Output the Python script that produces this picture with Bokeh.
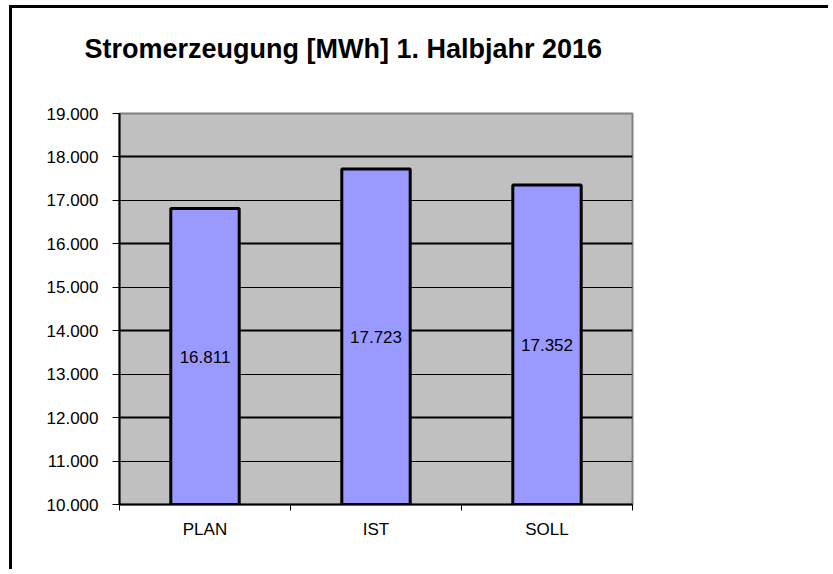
from bokeh.plotting import figure
from bokeh.models import ColumnDataSource, FixedTicker, Range1d, Grid, Title
from bokeh.core.properties import value
from bokeh.embed import file_html
from bokeh.resources import INLINE

categories = ["PLAN", "IST", "SOLL"]
values = [16811, 17723, 17352]
y_ticks = [10000, 11000, 12000, 13000, 14000, 15000, 16000, 17000, 18000, 19000]
title_text = "Stromerzeugung [MWh] 1. Halbjahr 2016"

def de(v):
    return f"{v:,}".replace(",", ".")

ymin, ymax = y_ticks[0], y_ticks[-1]
xs = [i + 0.5 for i in range(len(categories))]
src = ColumnDataSource(dict(
    x=xs, top=values, cat=categories,
    mid=[(ymin + v) / 2 for v in values],
    lab=[de(v) for v in values],
))

FONT = "Liberation Sans"
W, H = 819, 564

p = figure(width=W, height=H, output_backend="svg", toolbar_location=None,
           x_range=Range1d(0, len(categories)), y_range=Range1d(ymin, ymax),
           min_border_left=107, min_border_right=199, min_border_top=105, min_border_bottom=68)
p.title_location = None
p.styles = {"border-left": "3px solid black", "border-top": "3px solid black",
            "margin-left": "9px", "margin-top": "5px"}
p.background_fill_color = "#C0C0C0"
p.border_fill_color = "white"
p.outline_line_color = "#808080"
p.outline_line_width = 2

# spacer between frame and title, then the title itself
p.add_layout(Title(text=" ", text_font_size="10px", standoff=37), "above")
p.add_layout(Title(text=title_text, text_font=FONT, text_font_size="27px",
                   text_font_style="bold", text_color="black", align="left",
                   offset=-35, standoff=0), "above")

# grids: alternate thick/thin
p.xgrid.visible = False
p.ygrid.visible = False
thick = [t for t in y_ticks[1:-1] if (t // 1000) % 2 == 0]
thin = [t for t in y_ticks[1:-1] if (t // 1000) % 2 == 1]
p.add_layout(Grid(dimension=1, ticker=FixedTicker(ticks=thick), grid_line_color="black", grid_line_width=2))
p.add_layout(Grid(dimension=1, ticker=FixedTicker(ticks=thin), grid_line_color="black", grid_line_width=1))

p.vbar(x="x", top="top", bottom=ymin, width=0.4, source=src,
       fill_color="#9999FF", line_color="black", line_width=3)
p.text(x="x", y="mid", text="lab", source=src, text_align="center", text_baseline="middle",
       text_font=value(FONT), text_font_size="17px", text_color="black")

# y axis
p.yaxis.ticker = FixedTicker(ticks=y_ticks)
p.yaxis.major_label_overrides = {t: de(t) for t in y_ticks}
p.yaxis.axis_line_color = "black"
p.yaxis.axis_line_width = 2
p.yaxis.major_tick_out = 7
p.yaxis.major_tick_in = 0
p.yaxis.major_tick_line_width = 1
p.yaxis.minor_tick_line_color = None
p.yaxis.major_label_text_font = FONT
p.yaxis.major_label_text_font_size = "17px"
p.yaxis.major_label_text_color = "black"
p.yaxis.major_label_standoff = 14

# x axis: labels at centers, ticks at boundaries
p.xaxis.ticker = FixedTicker(ticks=xs, minor_ticks=list(range(len(categories) + 1)))
p.xaxis.major_label_overrides = {x: c for x, c in zip(xs, categories)}
p.xaxis.major_tick_line_color = None
p.xaxis.minor_tick_out = 6
p.xaxis.minor_tick_in = 0
p.xaxis.minor_tick_line_color = "black"
p.xaxis.axis_line_color = "black"
p.xaxis.axis_line_width = 2
p.xaxis.major_label_text_font = FONT
p.xaxis.major_label_text_font_size = "17px"
p.xaxis.major_label_text_color = "black"
p.xaxis.major_label_standoff = 9

open("out.html", "w").write(file_html(p, INLINE))
